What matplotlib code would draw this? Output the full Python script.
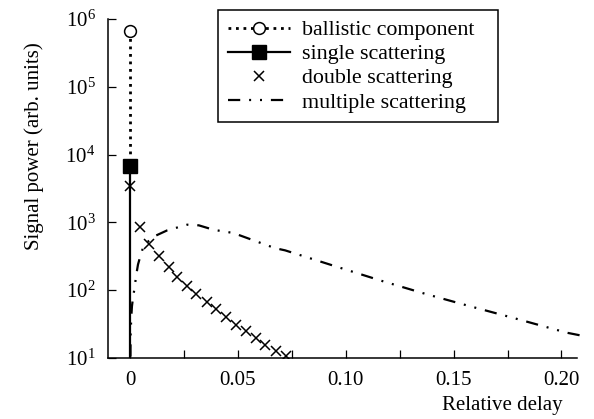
import matplotlib
matplotlib.use("Agg")
import matplotlib.pyplot as plt
from matplotlib.ticker import MultipleLocator, NullLocator, LogLocator, LogFormatterSciNotation

plt.rcParams['font.family'] = ['Liberation Serif', 'DejaVu Serif']
plt.rcParams['mathtext.fontset'] = 'custom'
plt.rcParams['mathtext.rm'] = 'Liberation Serif'

# ballistic + single scattering at zero delay
ballistic_x = [0.0, 0.0]
ballistic_y = [6.6e5, 6.8e3]
single_x = [0.0, 0.0]
single_y = [6.8e3, 1e1]

double_x = [0.0, 0.0046, 0.0088, 0.0135, 0.0179, 0.0220, 0.0265, 0.0308, 0.0357,
            0.0400, 0.0446, 0.0492, 0.0539, 0.0582, 0.0628, 0.0677, 0.0723]
double_y = [3.5e3, 844, 486, 317, 221, 157, 117, 88, 68,
            52, 40, 31, 25, 19.7, 15.7, 12.8, 10.7]

multi_x = [0.0002, 0.0003, 0.0006, 0.0009, 0.0014, 0.0022, 0.0028, 0.0037, 0.0050,
           0.0065, 0.0119, 0.0172, 0.0265, 0.0319, 0.0388, 0.0479, 0.0672, 0.0719,
           0.0974, 0.1174, 0.1376, 0.1576, 0.1777, 0.2025, 0.2086]
multi_y = [10.5, 24, 40, 58, 78, 112, 161, 239, 335,
           470, 637, 762, 925, 905, 777, 698, 417, 387,
           214, 135, 87, 58, 39, 23.6, 21.6]

fig = plt.figure(figsize=(5.94, 4.19), dpi=100)
ax = fig.add_axes([108/594, 1-358/419, 469/594, 339/419])

ax.plot(ballistic_x, ballistic_y, color='k', lw=2.0, linestyle=(0, (1, 1.7)),
        marker='o', markevery=[0], ms=8.5, mfc='white', mec='k', mew=1.1,
        label='ballistic component')
ax.plot(single_x, single_y, color='k', lw=1.6, marker='s', markevery=[0], ms=9.5,
        label='single scattering')
ax.plot(double_x, double_y, 'kx', ms=7, mew=1.1, label='double scattering')
ax.plot(multi_x, multi_y, color='k', lw=1.6, linestyle=(0, (5.5, 4, 0.9, 4, 0.9, 4)),
        clip_on=False, label='multiple scattering')

ax.set_yscale('log')
ax.set_ylim(1e1, 1e6)
ax.set_xlim(-0.0102, 0.2072)
ax.yaxis.set_major_locator(LogLocator(base=10, numticks=10))
ax.yaxis.set_major_formatter(LogFormatterSciNotation())
ax.yaxis.set_minor_locator(NullLocator())
ax.xaxis.set_minor_locator(MultipleLocator(0.025))
ax.set_xticks([0, 0.05, 0.10, 0.15, 0.20])
ax.set_xticklabels(['0', '0.05', '0.10', '0.15', '0.20'])

for s in ['top', 'right']:
    ax.spines[s].set_visible(False)
for s in ['left', 'bottom']:
    ax.spines[s].set_linewidth(1.1)

ax.tick_params(which='both', direction='in', length=6, width=0.9, labelsize=15)
ax.tick_params(axis='y', pad=9)
ax.tick_params(axis='x', pad=9)

ax.set_ylabel('Signal power (arb. units)', fontsize=15)
ax.yaxis.set_label_coords(-0.137, 0.625)
ax.set_xlabel('Relative delay', fontsize=15)
ax.xaxis.label.set_ha('right')
ax.xaxis.label.set_va('center')
ax.xaxis.set_label_coords(0.970, -0.139)

lx = (218-108)/469
ly = (358-10)/339
lw_ = 280/469
lh = 111/339
leg = ax.legend(loc='upper left', bbox_to_anchor=(lx, ly - lh, lw_, lh), mode='expand',
                borderaxespad=0, fontsize=15.8, handlelength=2.83, handletextpad=0.55,
                labelspacing=0.17, borderpad=0.45, fancybox=False, framealpha=1,
                edgecolor='k')
leg.get_frame().set_linewidth(1.1)

fig.savefig('out.png', dpi=100)
